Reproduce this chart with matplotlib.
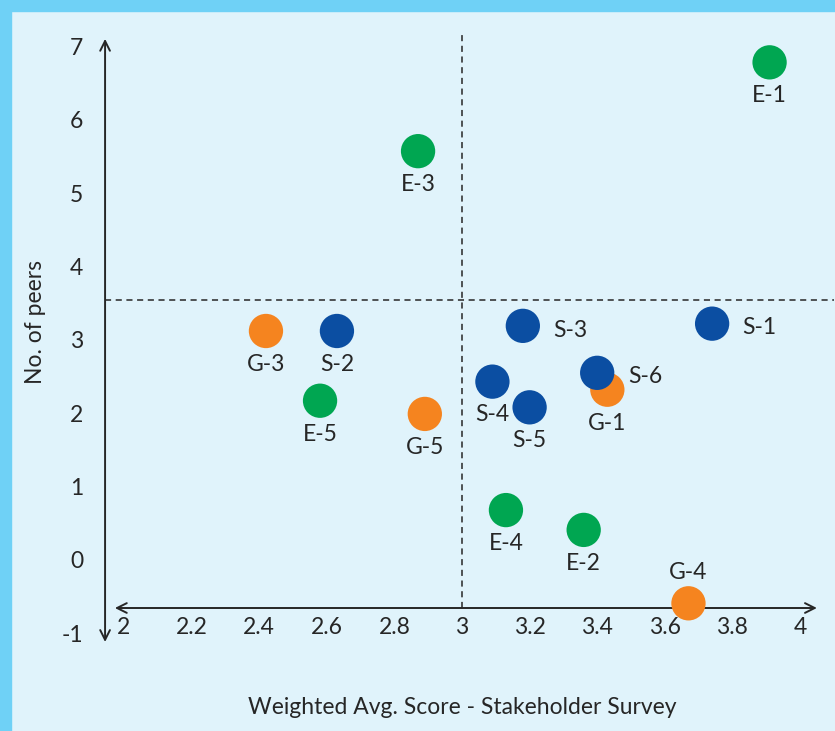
import matplotlib
matplotlib.use("Agg")
import matplotlib.pyplot as plt
from matplotlib.patches import Rectangle

# ---- data ----
labels = ["E-1", "E-2", "E-3", "E-4", "E-5",
          "S-1", "S-2", "S-3", "S-4", "S-5", "S-6",
          "G-1", "G-3", "G-4", "G-5"]
x_vals = [3.91, 3.36, 2.87, 3.13, 2.58,
          3.74, 2.63, 3.18, 3.09, 3.20, 3.40,
          3.43, 2.42, 3.67, 2.89]
y_vals = [6.78, 0.41, 5.57, 0.68, 2.17,
          3.22, 3.12, 3.19, 2.43, 2.08, 2.55,
          2.32, 3.12, -0.59, 1.99]
groups = ["E", "E", "E", "E", "E",
          "S", "S", "S", "S", "S", "S",
          "G", "G", "G", "G"]
label_pos = ["below", "below", "below", "below", "below",
             "right", "below", "right", "below", "below", "right",
             "below", "below", "above", "below"]
x_ticks = [2, 2.2, 2.4, 2.6, 2.8, 3, 3.2, 3.4, 3.6, 3.8, 4]
x_tick_labels = ["2", "2.2", "2.4", "2.6", "2.8", "3", "3.2", "3.4", "3.6", "3.8", "4"]
y_ticks = [-1, 0, 1, 2, 3, 4, 5, 6, 7]
y_tick_labels = ["-1", "0", "1", "2", "3", "4", "5", "6", "7"]
x_mid = 3.0
y_mid = 3.54
x_axis_at = -0.654
y_axis_at = 1.944

colors = {"E": "#00a651", "S": "#0b4ea2", "G": "#f5841f"}
bg = "#e0f3fb"
border = "#6fd1f6"
ink = "#262626"

plt.rcParams["font.family"] = ["Lato", "DejaVu Sans"]
plt.rcParams["axes.unicode_minus"] = False
FS = 16.5

fig = plt.figure(figsize=(8.35, 7.31), dpi=100, facecolor=bg)
W, H = 835, 731
x0, x1 = 1.92, 4.1
y0, y1 = -1.25, 7.4
px_per_x = 338.0
px_per_y = 73.4
left_px = 124 + (x0 - 2) * px_per_x
right_px = 124 + (x1 - 2) * px_per_x
bottom_px = 560 - y0 * px_per_y
top_px = 560 - y1 * px_per_y
ax = fig.add_axes([left_px / W, 1 - bottom_px / H,
                   (right_px - left_px) / W, (bottom_px - top_px) / H])
ax.set_facecolor(bg)
ax.set_xlim(x0, x1)
ax.set_ylim(y0, y1)
for s in ax.spines.values():
    s.set_visible(False)

ax.set_xticks(x_ticks)
ax.set_xticklabels(x_tick_labels)
ax.set_yticks(y_ticks)
ax.set_yticklabels(y_tick_labels)
ax.tick_params(axis="both", length=0, labelsize=FS, colors=ink)
ax.tick_params(axis="x", pad=-25)
ax.tick_params(axis="y", pad=10)

# border strips (top and left)
fig.patches.append(Rectangle((0, 1 - 11 / H), 1, 11 / H, transform=fig.transFigure,
                             color=border, zorder=0))
fig.patches.append(Rectangle((0, 0), 11 / W, 1, transform=fig.transFigure,
                             color=border, zorder=0))

# dashed quadrant lines
ax.plot([x_mid, x_mid], [x_axis_at, 7.16], ls=(0, (4, 3)), lw=1.1, color=ink, zorder=1)
ax.plot([y_axis_at, x1], [y_mid, y_mid], ls=(0, (4, 3)), lw=1.1, color=ink, zorder=1)

# axis arrows
ax.annotate("", xy=(y_axis_at, 7.10), xytext=(y_axis_at, -1.117),
            arrowprops=dict(arrowstyle="<->,head_length=0.7,head_width=0.35",
                            lw=1.4, color=ink, shrinkA=0, shrinkB=0), zorder=2)
ax.annotate("", xy=(4.05, x_axis_at), xytext=(1.973, x_axis_at),
            arrowprops=dict(arrowstyle="<->,head_length=0.7,head_width=0.35",
                            lw=1.4, color=ink, shrinkA=0, shrinkB=0), zorder=2)

# points: orange first so blue overlaps (S-6 over G-1)
order = {"G": 0, "E": 1, "S": 2}
idx = sorted(range(len(labels)), key=lambda i: order[groups[i]])
for i in idx:
    ax.scatter(x_vals[i], y_vals[i], s=610, color=colors[groups[i]],
               edgecolors="none", zorder=3 + order[groups[i]])

offsets = {"below": ((0, -24), "center", "center"),
           "above": ((0, 22), "center", "center"),
           "right": ((22, -3), "left", "center")}
for lab, xv, yv, pos in zip(labels, x_vals, y_vals, label_pos):
    off, ha, va = offsets[pos]
    ax.annotate(lab, (xv, yv), xytext=off, textcoords="offset points",
                ha=ha, va=va, fontsize=FS, color=ink, zorder=6)

fig.text(462 / W, 1 - 708 / H, "Weighted Avg. Score - Stakeholder Survey",
         ha="center", va="center", fontsize=FS, color=ink)
fig.text(35 / W, 1 - 322 / H, "No. of peers", rotation=90,
         ha="center", va="center", fontsize=FS, color=ink)

fig.savefig("out.png", dpi=100, facecolor=bg)
